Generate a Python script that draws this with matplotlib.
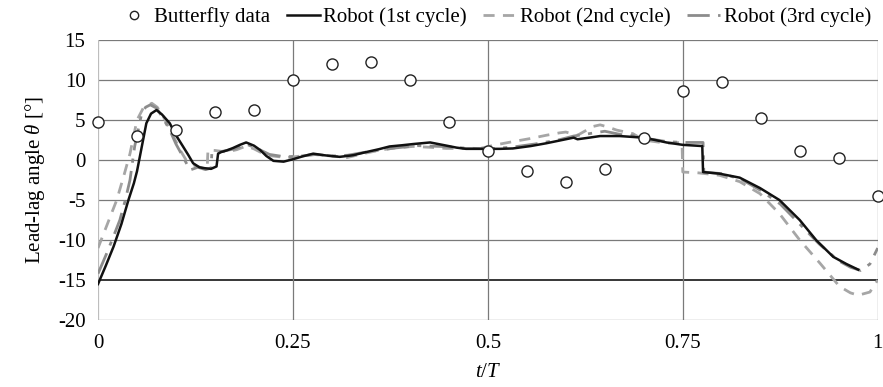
import matplotlib.pyplot as plt
from matplotlib.lines import Line2D

# ---- DATA ----
t_butterfly = [0, 0.05, 0.1, 0.15, 0.2, 0.25, 0.3, 0.35, 0.4, 0.45, 0.5,
               0.55, 0.6, 0.65, 0.7, 0.75, 0.8, 0.85, 0.9, 0.95, 1.0]
v_butterfly = [4.7, 3.0, 3.7, 6.0, 6.2, 10.0, 12.0, 12.3, 10.0, 4.8, 1.1,
               -1.4, -2.7, -1.1, 2.8, 8.6, 9.8, 5.3, 1.1, 0.3, -4.5]

t_cyc1 = [0, 0.01, 0.02, 0.03, 0.039, 0.046, 0.05, 0.054, 0.062, 0.068, 0.075,
          0.082, 0.092, 0.1, 0.109, 0.116, 0.122, 0.13, 0.135, 0.145, 0.152,
          0.154, 0.158, 0.165, 0.173, 0.182, 0.19, 0.2, 0.208, 0.216, 0.225,
          0.238, 0.25, 0.262, 0.276, 0.29, 0.31, 0.327, 0.344, 0.36, 0.374,
          0.39, 0.404, 0.426, 0.447, 0.46, 0.472, 0.498, 0.515, 0.532, 0.555,
          0.575, 0.595, 0.61, 0.615, 0.63, 0.644, 0.669, 0.699, 0.715, 0.729,
          0.75, 0.775, 0.776, 0.797, 0.823, 0.849, 0.874, 0.9, 0.921, 0.943,
          0.96, 0.975]
v_cyc1 = [-15.5, -13.2, -10.8, -8.0, -5.0, -2.9, -1.4, 0.6, 4.6, 5.8, 6.25,
          5.7, 4.6, 3.1, 1.7, 0.6, -0.4, -0.9, -1.0, -1.1, -0.8,
          0.8, 1.0, 1.2, 1.5, 1.9, 2.2, 1.8, 1.25, 0.5, -0.1,
          -0.2, 0.1, 0.45, 0.8, 0.6, 0.4, 0.6, 1.0, 1.35, 1.7,
          1.85, 2.0, 2.2, 1.8, 1.55, 1.4, 1.4, 1.4, 1.45, 1.75,
          2.1, 2.5, 2.8, 2.6, 2.8, 3.0, 3.0, 2.8, 2.5, 2.2,
          1.9, 1.75, -1.5, -1.7, -2.2, -3.5, -5.0, -7.5, -10.0, -12.1,
          -13.0, -13.7]

t_cyc2 = [0, 0.012, 0.024, 0.033, 0.041, 0.05, 0.058, 0.069, 0.076, 0.084,
          0.097, 0.105, 0.113, 0.126, 0.14, 0.141, 0.15, 0.165, 0.178, 0.19,
          0.2, 0.216, 0.242, 0.26, 0.276, 0.3, 0.319, 0.34, 0.362, 0.38,
          0.404, 0.425, 0.447, 0.47, 0.49, 0.51, 0.532, 0.555, 0.575, 0.592,
          0.6, 0.615, 0.635, 0.644, 0.655, 0.665, 0.686, 0.7, 0.729, 0.749,
          0.75, 0.77, 0.797, 0.823, 0.849, 0.874, 0.9, 0.926, 0.951, 0.965,
          0.975, 0.99, 1.0]
v_cyc2 = [-11, -8, -5, -2, 0.8, 5.0, 6.5, 7.1, 6.6, 5.4,
          2.9, 1.3, 0.0, -0.8, -1.1, 1.25, 1.2, 1.0, 1.3, 1.75,
          1.4, 0.6, 0.3, 0.5, 0.7, 0.5, 0.3, 0.8, 1.25, 1.5,
          1.7, 1.6, 1.45, 1.45, 1.45, 1.9, 2.3, 2.7, 3.1, 3.4,
          3.5, 3.1, 4.2, 4.4, 4.1, 3.75, 3.3, 2.5, 2.1, 2.2,
          -1.5, -1.6, -1.9, -2.7, -4.2, -6.7, -10, -12.9, -15.8, -16.6,
          -16.9, -16.5, -15]

t_cyc3 = [0, 0.011, 0.02, 0.028, 0.035, 0.041, 0.047, 0.056, 0.061, 0.067,
          0.075, 0.083, 0.092, 0.1, 0.109, 0.118, 0.128, 0.138, 0.145, 0.146,
          0.16, 0.175, 0.19, 0.205, 0.22, 0.24, 0.26, 0.28, 0.3, 0.32,
          0.35, 0.38, 0.41, 0.44, 0.47, 0.5, 0.53, 0.56, 0.59, 0.61,
          0.63, 0.65, 0.67, 0.69, 0.71, 0.73, 0.75, 0.776, 0.777, 0.8,
          0.825, 0.85, 0.875, 0.9, 0.925, 0.95, 0.965, 0.978, 0.99, 1.0]
v_cyc3 = [-14.2, -11.7, -9.5, -7.5, -5.0, -2.5, 1.7, 5.8, 6.6, 6.9,
          6.5, 5.3, 3.75, 2.0, 0.4, -1.25, -0.9, -1.2, -1.0, 0.9,
          1.1, 1.4, 2.0, 1.4, 0.7, 0.4, 0.5, 0.7, 0.5, 0.6,
          1.1, 1.5, 1.8, 1.7, 1.5, 1.4, 1.6, 2.0, 2.5, 3.0,
          3.3, 3.6, 3.2, 3.0, 2.6, 2.3, 2.2, 2.2, -1.5, -1.7,
          -2.4, -3.8, -5.5, -8.0, -10.5, -12.6, -13.4, -13.8, -13.0, -11.0]

x_ticks = [0, 0.25, 0.5, 0.75, 1]
x_labels = ["0", "0.25", "0.5", "0.75", "1"]
y_ticks = [-20, -15, -10, -5, 0, 5, 10, 15]

# ---- STYLE ----
plt.rcParams.update({
    "font.family": ["Liberation Serif", "DejaVu Serif"],
    "font.size": 15,
    "axes.unicode_minus": False,
    "mathtext.fontset": "custom",
    "mathtext.it": "Liberation Serif:italic",
    "mathtext.rm": "Liberation Serif",
})

fig = plt.figure(figsize=(8.83, 3.87), dpi=100)
ax = fig.add_axes([0.111, 0.173, 0.883, 0.7235])

# grid
for yv in y_ticks:
    ax.axhline(yv, color="#000000" if yv == -15 else "#7a7a7a",
               lw=1.1 if yv == -15 else 0.9, zorder=0)
for xv in x_ticks[1:]:
    ax.axvline(xv, color="#7a7a7a", lw=0.9, zorder=0)
ax.axvline(0, color="#bdbdbd", lw=0.9, zorder=0)

ax.plot(t_butterfly, v_butterfly, "o", ms=8, mfc="white", mec="#222222",
        mew=1.0, zorder=5, clip_on=False)
ax.plot(t_cyc1, v_cyc1, "-", color="#111111", lw=1.8, zorder=4)
ax.plot(t_cyc2, v_cyc2, color="#a6a6a6", lw=2.0, dashes=(4, 3), zorder=3)
ax.plot(t_cyc3, v_cyc3, color="#8c8c8c", lw=2.0, dashes=(8, 3, 1.5, 3),
        zorder=3)

ax.set_xlim(0, 1)
ax.set_ylim(-20, 15)
ax.set_xticks(x_ticks)
ax.set_xticklabels(x_labels)
ax.set_yticks(y_ticks)
ax.tick_params(axis="x", length=0, pad=10)
ax.tick_params(axis="y", length=0, pad=9)
for s in ax.spines.values():
    s.set_visible(False)

ax.set_xlabel("$t/T$", labelpad=7)
ax.set_ylabel(r"Lead-lag angle $\theta$ [°]", labelpad=8)

handles = [
    Line2D([], [], ls="none", marker="o", ms=6, mfc="white", mec="#222222", mew=1.0),
    Line2D([], [], color="#111111", lw=1.8),
    Line2D([], [], color="#a6a6a6", lw=2.0, dashes=(4, 3)),
    Line2D([], [], color="#8c8c8c", lw=2.0, dashes=(8, 3, 1.5, 3)),
]
labels = ["Butterfly data", "Robot (1st cycle)", "Robot (2nd cycle)",
          "Robot (3rd cycle)"]
ax.legend(handles, labels, loc="lower center", bbox_to_anchor=(0.508, 1.045),
          ncol=4, frameon=False, handlelength=1.6, handletextpad=0.15,
          columnspacing=0.8, borderaxespad=0, borderpad=0)

fig.savefig("out.png", dpi=100)
